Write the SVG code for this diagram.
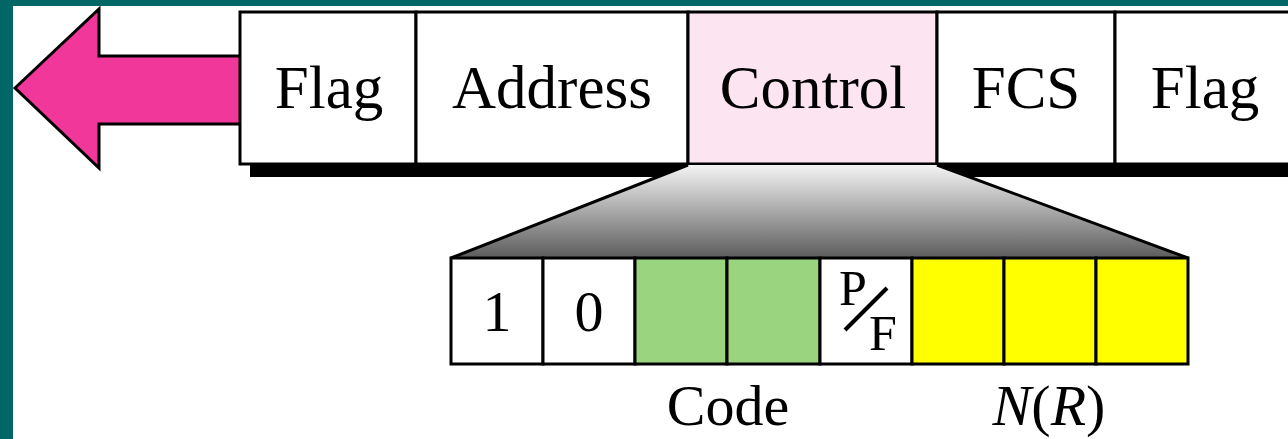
<svg xmlns="http://www.w3.org/2000/svg" width="1288" height="439" viewBox="0 0 1288 439">
  <defs>
    <linearGradient id="zoomFill" x1="0" y1="0" x2="0" y2="1">
      <stop offset="0" stop-color="#f4f4f4"/>
      <stop offset="1" stop-color="#5c5c5c"/>
    </linearGradient>
    <style>
      .lbl { font-family: "Liberation Serif", "Times New Roman", serif; font-size: 61px; fill: #000; text-anchor: middle; }
      .bit { font-family: "Liberation Serif", "Times New Roman", serif; font-size: 58px; fill: #000; text-anchor: middle; }
      .pf { font-family: "Liberation Serif", "Times New Roman", serif; font-size: 50px; fill: #000; text-anchor: middle; }
      .cell { stroke: #000; stroke-width: 3; }
      .field { stroke: #000; stroke-width: 3; }
    </style>
  </defs>

  <!-- page background and border -->
  <rect x="0" y="0" width="1288" height="439" fill="#006666"/>
  <rect x="13" y="6" width="1275" height="433" fill="#ffffff"/>

  <!-- direction arrow -->
  <g id="direction-arrow">
    <polygon points="15,88 99,9 99,56 242,56 242,124 99,124 99,168" fill="#f2379a" stroke="#000" stroke-width="3" stroke-linejoin="miter"/>
  </g>

  <!-- frame shadow -->
  <rect x="250" y="164" width="1050" height="13" fill="#000"/>

  <!-- frame fields -->
  <g id="field-flag-start">
    <rect class="field" x="240" y="12" width="176" height="152" fill="#fff"/>
    <text class="lbl" x="329" y="108">Flag</text>
  </g>
  <g id="field-address">
    <rect class="field" x="416" y="12" width="272" height="152" fill="#fff"/>
    <text class="lbl" x="552" y="108">Address</text>
  </g>
  <g id="field-control">
    <rect class="field" x="688" y="12" width="249" height="152" fill="#fde4f1"/>
    <text class="lbl" x="813" y="108">Control</text>
  </g>
  <g id="field-fcs">
    <rect class="field" x="937" y="12" width="178" height="152" fill="#fff"/>
    <text class="lbl" x="1026" y="108">FCS</text>
  </g>
  <g id="field-flag-end">
    <rect class="field" x="1115" y="12" width="190" height="152" fill="#fff"/>
    <text class="lbl" x="1205" y="108">Flag</text>
  </g>

  <!-- expansion of the control field -->
  <g id="connectors">
    <polygon points="688,165 937,165 1188,258 451,258" fill="url(#zoomFill)"/>
    <line x1="688" y1="165" x2="451" y2="258" stroke="#000" stroke-width="3"/>
    <line x1="937" y1="165" x2="1188" y2="258" stroke="#000" stroke-width="3"/>
  </g>

  <!-- control field bits -->
  <g id="bit-1">
    <rect class="cell" x="451" y="258" width="92" height="106" fill="#fff"/>
    <text class="bit" x="497" y="331">1</text>
  </g>
  <g id="bit-2">
    <rect class="cell" x="543" y="258" width="92" height="106" fill="#fff"/>
    <text class="bit" x="589" y="331">0</text>
  </g>
  <g id="bit-3">
    <rect class="cell" x="635" y="258" width="92" height="106" fill="#9bd47f"/>
  </g>
  <g id="bit-4">
    <rect class="cell" x="727" y="258" width="93" height="106" fill="#9bd47f"/>
  </g>
  <g id="bit-5">
    <rect class="cell" x="820" y="258" width="92" height="106" fill="#fff"/>
    <text class="pf" x="853" y="305">P</text>
    <line x1="845" y1="330" x2="887" y2="288" stroke="#000" stroke-width="4"/>
    <text class="pf" x="883" y="350">F</text>
  </g>
  <g id="bit-6">
    <rect class="cell" x="912" y="258" width="92" height="106" fill="#ffff00"/>
  </g>
  <g id="bit-7">
    <rect class="cell" x="1004" y="258" width="92" height="106" fill="#ffff00"/>
  </g>
  <g id="bit-8">
    <rect class="cell" x="1096" y="258" width="92" height="106" fill="#ffff00"/>
  </g>

  <!-- bit group labels -->
  <g id="label-code">
    <text class="bit" x="728" y="425">Code</text>
  </g>
  <g id="label-nr">
    <text class="bit" x="1049" y="425"><tspan font-style="italic">N</tspan>(<tspan font-style="italic">R</tspan>)</text>
  </g>
</svg>
